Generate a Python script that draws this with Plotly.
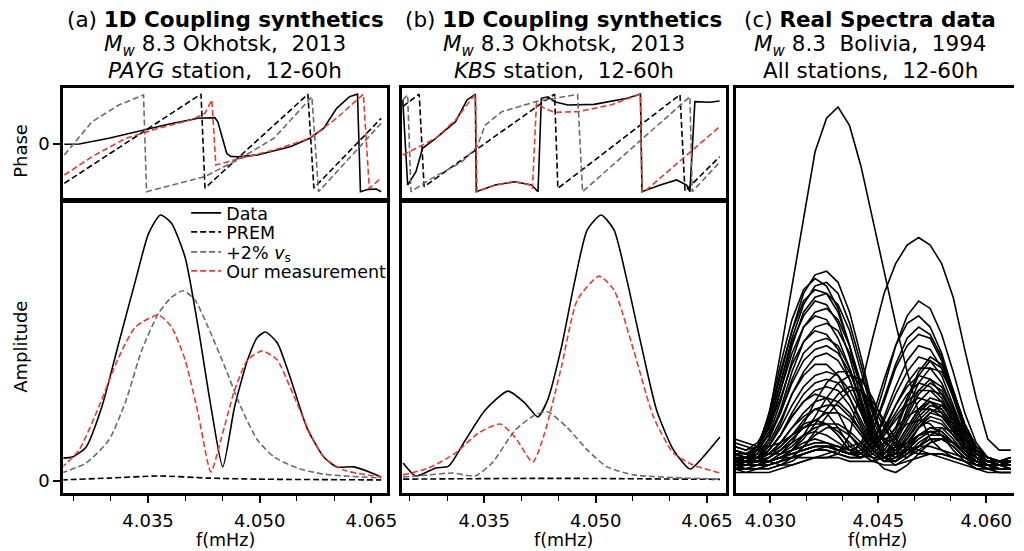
import plotly.graph_objects as go

# ---------------- Panel (a): PAYG station ----------------
# Phase (radians)
a_ph_data_f = [4.02376, 4.02575, 4.02975, 4.03374, 4.03773, 4.04172, 4.04398, 4.04438, 4.04504,
               4.04558, 4.04611, 4.04704, 4.04970, 4.05409, 4.05675, 4.05861, 4.06034, 4.06207,
               4.06314, 4.06354, 4.06460, 4.06566, 4.06633]
a_ph_data_v = [-0.02, 0.00, 0.36, 0.82, 1.24, 1.62, 1.66, 1.40, 0.20, -0.60, -0.78, -0.80, -0.69,
               -0.17, 0.36, 0.99, 2.24, 2.97, 3.14, -3.00, -2.85, -2.83, -3.00]
a_ph_prem_f = [4.02376, 4.04212, 4.04265, 4.05648, 4.05728, 4.06633]
a_ph_prem_v = [-2.47, 3.14, -2.77, 3.13, -2.77, 1.62]
a_ph_vs_f = [4.02376, 4.02748, 4.03108, 4.03440, 4.03480, 4.04261, 4.04704, 4.05192, 4.05702,
             4.05791, 4.06633]
a_ph_vs_v = [-0.69, 1.40, 2.45, 3.08, -3.00, -2.05, -1.00, 0.36, 2.97, -3.00, 1.30]
a_ph_meas_f = [4.02376, 4.02748, 4.03201, 4.03640, 4.04079, 4.04265, 4.04358, 4.04411, 4.04744,
               4.05196, 4.05675, 4.06034, 4.06393, 4.06473, 4.06633]
a_ph_meas_v = [-1.95, -0.80, 0.36, 0.99, 1.51, 1.93, 2.77, -1.32, -0.90, -0.38, 0.36, 1.62, 3.13,
               -2.79, -2.12]

# Amplitude (normalised)
a_amp_data_f = [4.02336, 4.02482, 4.02669, 4.02881, 4.03108, 4.03334, 4.03507, 4.03666, 4.03813,
                4.03999, 4.04172, 4.04345, 4.04504, 4.04664, 4.04837, 4.04970, 4.05076, 4.05236,
                4.05409, 4.05635, 4.05861, 4.06034, 4.06260, 4.06473, 4.06633]
a_amp_data_v = [0.086, 0.090, 0.128, 0.280, 0.520, 0.756, 0.930, 1.000, 0.970, 0.840, 0.580, 0.280,
                0.053, 0.280, 0.455, 0.540, 0.560, 0.520, 0.390, 0.200, 0.090, 0.053, 0.053, 0.034,
                0.015]
a_amp_prem_f = [4.02336, 4.02975, 4.03640, 4.04305, 4.04970, 4.06633]
a_amp_prem_v = [0.004, 0.011, 0.019, 0.011, 0.007, 0.004]
a_amp_vs_f = [4.02336, 4.02669, 4.02975, 4.03201, 4.03414, 4.03640, 4.03813, 4.03972, 4.04132,
              4.04305, 4.04531, 4.04744, 4.04970, 4.05196, 4.05502, 4.05861, 4.06633]
a_amp_vs_v = [0.030, 0.068, 0.154, 0.300, 0.490, 0.630, 0.690, 0.715, 0.680, 0.580, 0.430, 0.280,
              0.154, 0.090, 0.049, 0.026, 0.011]
a_amp_meas_f = [4.02336, 4.02575, 4.02841, 4.03108, 4.03334, 4.03640, 4.03813, 4.03999, 4.04172,
                4.04345, 4.04478, 4.04664, 4.04837, 4.05036, 4.05236, 4.05409, 4.05675, 4.05861,
                4.06127, 4.06633]
a_amp_meas_v = [0.049, 0.117, 0.280, 0.466, 0.580, 0.624, 0.580, 0.455, 0.255, 0.034, 0.154, 0.342,
                0.455, 0.489, 0.455, 0.353, 0.180, 0.090, 0.041, 0.015]

# ---------------- Panel (b): KBS station ----------------
b_ph_data_f = [4.02403, 4.02469, 4.02580, 4.02669, 4.02847, 4.03113, 4.03269, 4.03380, 4.03393,
               4.03647, 4.03913, 4.04136, 4.04224, 4.04269, 4.04357, 4.04447, 4.04624, 4.04980,
               4.05424, 4.05603, 4.05624, 4.05869, 4.06091, 4.06224, 4.06269, 4.06336, 4.06536,
               4.06669]
b_ph_data_v = [2.77, -2.58, -1.74, -0.27, 0.36, 1.40, 2.77, 3.14, -3.00, -2.58, -2.37, -2.58, -3.00,
               2.87, 2.97, 2.66, 2.45, 2.49, 2.87, 3.14, -3.00, -2.58, -2.26, -2.58, -3.00, 2.66,
               2.62, 2.70]
b_ph_prem_f = [4.02403, 4.02624, 4.02690, 4.04447, 4.04491, 4.06136, 4.06203, 4.06669]
b_ph_prem_v = [2.35, 3.14, -2.68, 3.14, -2.79, 3.10, -2.96, -0.80]
b_ph_vs_f = [4.02403, 4.02469, 4.02513, 4.02757, 4.03203, 4.03403, 4.03513, 4.03736, 4.04224,
             4.04757, 4.04824, 4.06269, 4.06300, 4.06669]
b_ph_vs_v = [2.77, 3.08, -3.00, -2.26, -1.11, -0.17, 1.19, 2.03, 2.70, 3.12, -3.00, 2.97, -3.00, -1.15]
b_ph_meas_f = [4.02403, 4.02847, 4.03113, 4.03380, 4.03403, 4.03647, 4.03913, 4.04113, 4.04149,
               4.04203, 4.04313, 4.04447, 4.04757, 4.05203, 4.05603, 4.05624, 4.05669, 4.06669]
b_ph_meas_v = [-0.69, 0.36, 1.51, 3.14, -3.00, -2.58, -2.37, -2.58, -2.79, 2.56, 2.24, 1.99, 2.03,
               2.45, 3.14, -3.00, -2.95, 1.09]

b_amp_data_f = [4.02407, 4.02580, 4.02847, 4.03020, 4.03247, 4.03513, 4.03820, 4.04047, 4.04220,
                4.04353, 4.04540, 4.04713, 4.04887, 4.05073, 4.05247, 4.05420, 4.05607, 4.05820,
                4.06047, 4.06273, 4.06447, 4.06673]
b_amp_data_v = [0.068, 0.019, 0.049, 0.056, 0.154, 0.267, 0.338, 0.293, 0.241, 0.304, 0.504, 0.744,
                0.944, 1.000, 0.944, 0.756, 0.520, 0.267, 0.117, 0.045, 0.090, 0.165]
b_amp_prem_f = [4.02407, 4.04500, 4.06673]
b_amp_prem_v = [0.007, 0.010, 0.006]
b_amp_vs_f = [4.02407, 4.02753, 4.03073, 4.03380, 4.03607, 4.03913, 4.04180, 4.04353, 4.04620,
              4.04887, 4.05153, 4.05513, 4.06673]
b_amp_vs_v = [0.015, 0.023, 0.030, 0.019, 0.068, 0.190, 0.248, 0.260, 0.200, 0.117, 0.053, 0.023,
              0.007]
b_amp_meas_f = [4.02407, 4.02753, 4.03113, 4.03420, 4.03713, 4.03913, 4.04153, 4.04313, 4.04540,
                4.04753, 4.05047, 4.05247, 4.05513, 4.05780, 4.06047, 4.06313, 4.06673]
b_amp_meas_v = [0.023, 0.049, 0.105, 0.180, 0.214, 0.165, 0.071, 0.180, 0.430, 0.680, 0.770, 0.718,
                0.490, 0.240, 0.105, 0.060, 0.030]

# ---------------- Panel (c): real spectra, all stations (amplitude, %) ----------------
c_freq = [4.0250, 4.0266, 4.0282, 4.0298, 4.0314, 4.0330, 4.0346, 4.0362, 4.0378, 4.0394, 4.0410,
          4.0426, 4.0442, 4.0458, 4.0474, 4.0490, 4.0506, 4.0522, 4.0538, 4.0554, 4.0570, 4.0586,
          4.0602, 4.0618, 4.0634]
c_spectra = [
    [5, 6, 9, 17, 34, 52, 71, 88, 97, 100, 95, 84, 70, 56, 42, 29, 18, 11, 8, 6, 5, 4, 4, 3, 3],
    [4, 4, 5, 5, 6, 6, 6, 6, 6, 7, 12, 25, 38, 50, 58, 63, 65, 63, 58, 49, 35, 22, 11, 8, 8],
    [8, 7, 9, 16, 28, 40, 50, 55, 56, 53, 45, 33, 20, 10, 8, 11, 16, 19, 18, 14, 9, 6, 5, 5, 4],
    [6, 5, 8, 18, 31, 43, 51, 54, 52, 46, 36, 24, 13, 7, 9, 14, 19, 21, 19, 14, 9, 6, 5, 4, 4],
    [9, 8, 10, 15, 26, 38, 47, 52, 53, 50, 42, 31, 19, 11, 12, 18, 24, 27, 25, 19, 12, 7, 5, 4, 3],
    [5, 6, 9, 17, 29, 40, 48, 51, 50, 45, 36, 25, 14, 8, 6, 8, 11, 13, 12, 10, 7, 5, 4, 4, 5],
    [7, 6, 7, 13, 24, 36, 45, 49, 50, 47, 40, 29, 18, 10, 11, 17, 23, 26, 24, 18, 11, 7, 5, 4, 4],
    [4, 5, 8, 15, 26, 37, 44, 48, 47, 42, 33, 22, 12, 6, 5, 9, 14, 17, 16, 12, 8, 5, 4, 3, 3],
    [8, 7, 8, 12, 21, 32, 41, 45, 46, 43, 36, 26, 16, 10, 14, 22, 29, 33, 31, 24, 15, 9, 6, 5, 5],
    [6, 6, 8, 14, 24, 34, 41, 44, 43, 38, 30, 20, 11, 6, 7, 12, 17, 20, 19, 15, 9, 6, 4, 4, 4],
    [5, 4, 6, 11, 19, 29, 37, 41, 42, 40, 34, 25, 15, 8, 7, 10, 14, 16, 15, 12, 8, 5, 4, 3, 3],
    [7, 7, 9, 14, 22, 31, 37, 40, 39, 35, 27, 18, 10, 7, 11, 19, 26, 30, 29, 23, 14, 8, 6, 5, 5],
    [4, 5, 7, 11, 18, 27, 34, 37, 38, 36, 30, 21, 12, 6, 4, 6, 9, 11, 11, 9, 6, 4, 3, 3, 3],
    [9, 8, 9, 12, 18, 26, 32, 35, 36, 34, 29, 21, 13, 9, 13, 21, 28, 32, 30, 23, 14, 8, 6, 5, 6],
    [5, 5, 6, 9, 15, 23, 29, 33, 34, 32, 27, 19, 11, 6, 5, 7, 10, 12, 12, 10, 7, 5, 4, 4, 4],
    [6, 5, 6, 10, 16, 23, 28, 31, 31, 28, 22, 15, 9, 6, 8, 13, 18, 21, 20, 16, 10, 6, 4, 4, 3],
    [3, 4, 6, 9, 14, 20, 25, 28, 29, 28, 24, 18, 11, 6, 5, 8, 12, 14, 14, 11, 7, 4, 3, 3, 3],
    [7, 6, 6, 8, 12, 18, 23, 26, 27, 26, 22, 16, 10, 7, 10, 16, 21, 24, 23, 18, 11, 7, 5, 4, 4],
    [4, 4, 5, 8, 12, 17, 21, 24, 25, 24, 20, 14, 8, 5, 6, 9, 12, 14, 13, 10, 7, 5, 4, 3, 3],
    [5, 5, 5, 7, 10, 14, 18, 21, 22, 21, 18, 13, 8, 6, 9, 14, 19, 22, 21, 17, 11, 7, 5, 4, 4],
    [6, 5, 5, 6, 9, 12, 16, 19, 20, 20, 17, 13, 8, 5, 5, 7, 9, 11, 11, 9, 6, 4, 4, 3, 3],
    [3, 3, 4, 6, 8, 11, 14, 16, 18, 18, 16, 12, 8, 5, 7, 11, 15, 18, 17, 14, 9, 6, 4, 4, 4],
    [5, 4, 4, 5, 7, 9, 12, 14, 15, 15, 13, 10, 7, 5, 6, 9, 12, 13, 13, 10, 7, 5, 4, 3, 3],
    [4, 4, 4, 5, 7, 10, 15, 21, 26, 29, 29, 25, 18, 11, 7, 6, 8, 10, 11, 10, 8, 6, 5, 4, 4],
    [3, 3, 3, 4, 5, 8, 12, 17, 22, 26, 28, 27, 22, 15, 9, 7, 9, 12, 14, 13, 10, 7, 5, 4, 4],
    [5, 5, 5, 5, 6, 8, 11, 15, 19, 23, 25, 24, 20, 14, 9, 10, 14, 18, 20, 18, 13, 8, 6, 5, 5],
    [4, 4, 4, 4, 5, 6, 9, 13, 17, 21, 24, 24, 21, 16, 11, 8, 7, 7, 7, 6, 5, 4, 4, 4, 3],
    [6, 5, 5, 6, 8, 10, 12, 13, 12, 10, 8, 9, 15, 25, 36, 44, 48, 46, 39, 29, 18, 10, 6, 5, 5],
    [4, 4, 4, 5, 6, 8, 10, 11, 10, 8, 7, 10, 17, 27, 36, 42, 44, 41, 34, 24, 14, 8, 5, 4, 5],
    [7, 6, 6, 7, 10, 14, 17, 19, 18, 14, 9, 7, 13, 22, 31, 38, 41, 39, 33, 24, 15, 9, 6, 5, 6],
    [5, 5, 5, 5, 6, 7, 8, 9, 9, 8, 7, 8, 13, 21, 30, 36, 39, 38, 32, 23, 14, 8, 5, 4, 4],
    [6, 5, 6, 8, 12, 17, 21, 23, 22, 18, 12, 8, 10, 17, 25, 32, 36, 35, 30, 22, 13, 8, 6, 5, 5],
    [4, 4, 4, 5, 6, 7, 8, 9, 9, 8, 7, 7, 10, 16, 23, 29, 33, 32, 28, 20, 12, 7, 5, 4, 4],
    [5, 5, 5, 6, 8, 11, 14, 16, 15, 12, 8, 6, 8, 13, 20, 26, 30, 30, 26, 19, 12, 7, 5, 5, 5],
    [3, 3, 4, 5, 6, 8, 9, 10, 10, 9, 7, 6, 9, 14, 20, 25, 28, 27, 23, 17, 10, 6, 4, 4, 4],
    [6, 6, 6, 7, 9, 12, 15, 16, 15, 12, 8, 7, 9, 13, 18, 23, 26, 25, 22, 16, 10, 6, 5, 5, 5],
    [4, 4, 4, 4, 5, 6, 7, 8, 8, 7, 6, 6, 8, 12, 17, 21, 24, 24, 21, 15, 9, 6, 4, 4, 4],
    [5, 5, 5, 5, 6, 7, 8, 9, 9, 8, 7, 7, 9, 12, 16, 20, 22, 21, 18, 13, 8, 5, 4, 4, 5],
    [3, 3, 3, 4, 5, 6, 7, 8, 8, 7, 6, 6, 7, 10, 14, 17, 19, 19, 17, 13, 8, 5, 4, 3, 3],
    [10, 9, 8, 7, 7, 8, 9, 10, 10, 9, 8, 7, 6, 6, 7, 8, 9, 9, 8, 7, 6, 5, 5, 5, 6],
    [2, 2, 3, 3, 4, 5, 7, 8, 9, 9, 8, 7, 5, 4, 4, 5, 6, 7, 7, 6, 5, 3, 2, 2, 2],
    [8, 7, 6, 5, 4, 4, 5, 6, 7, 8, 9, 10, 11, 11, 10, 9, 8, 7, 6, 5, 4, 3, 3, 3, 3],
    [4, 3, 3, 3, 4, 6, 9, 12, 14, 14, 12, 9, 6, 3, 2, 4, 7, 10, 11, 10, 7, 4, 3, 2, 2],
    [11, 10, 9, 9, 10, 12, 14, 15, 15, 13, 10, 7, 5, 8, 12, 15, 16, 15, 12, 8, 5, 3, 3, 4, 5],
    [3, 2, 2, 2, 3, 4, 5, 6, 6, 6, 5, 5, 5, 6, 8, 10, 12, 13, 12, 10, 7, 5, 3, 2, 2],
]

# ---------------- Axis ticks / labels ----------------
ab_major_ticks = [4.035, 4.050, 4.065]
ab_major_labels = ["4.035", "4.050", "4.065"]
ab_minor_ticks = [4.025, 4.030, 4.040, 4.045, 4.055, 4.060]
c_major_ticks = [4.030, 4.045, 4.060]
c_major_labels = ["4.030", "4.045", "4.060"]
c_minor_ticks = [4.035, 4.040, 4.050, 4.055]
a_xrange = [4.02363, 4.06713]
b_xrange = [4.02393, 4.06753]
c_xrange = [4.02518, 4.06385]
phase_range = [-3.52, 3.52]
amp_range = [-0.0451, 1.0526]
c_amp_range = [-3.49, 105.1]

legend_names = ["Data", "PREM", "+2% <i>v</i><sub>s</sub>", "Our measurement"]
titles = {
    "a": ["(a) <b>1D Coupling synthetics</b>",
          "<i>M<sub>w</sub></i> 8.3 Okhotsk,\u00a0 2013",
          "<i>PAYG</i> station,\u00a0 12-60h"],
    "b": ["(b) <b>1D Coupling synthetics</b>",
          "<i>M<sub>w</sub></i> 8.3 Okhotsk,\u00a0 2013",
          "<i>KBS</i> station,\u00a0 12-60h"],
    "c": ["(c) <b>Real Spectra data</b>",
          "<i>M<sub>w</sub></i> 8.3\u00a0 Bolivia,\u00a0 1994",
          "All stations,\u00a0 12-60h"],
}

# ---------------- Figure ----------------
W, H = 1024, 551
FONT = "DejaVu Sans"
BLACK, GREY, RED = "#000000", "#6b6b6b", "#ea3a2c"
DASH = "6px,3px"
SMALL = 18


def fx(p):
    return p / W


def fy(p):
    return 1 - p / H


fig = go.Figure()


def add(xa, ya, f, v, color, dash, name=None, legend=None, width=1.6, shape="linear"):
    kw = dict(showlegend=False)
    if legend is not None:
        kw = dict(showlegend=True, legend=legend)
    fig.add_trace(go.Scatter(
        x=f, y=v, mode="lines", xaxis=xa, yaxis=ya, name=name,
        line=dict(color=color, dash=dash, width=width, shape=shape, smoothing=0.6),
        hoverinfo="skip", **kw))


# Panel a amplitude (legend entries)
add("x2", "y2", a_amp_data_f, a_amp_data_v, BLACK, "solid", legend_names[0], "legend", shape="spline")
add("x2", "y2", a_amp_prem_f, a_amp_prem_v, BLACK, DASH, legend_names[1], "legend2", shape="spline")
add("x2", "y2", a_amp_vs_f, a_amp_vs_v, GREY, DASH, legend_names[2], "legend3", shape="spline")
add("x2", "y2", a_amp_meas_f, a_amp_meas_v, RED, DASH, legend_names[3], "legend4", shape="spline")
# Panel a phase
add("x", "y", a_ph_data_f, a_ph_data_v, BLACK, "solid")
add("x", "y", a_ph_prem_f, a_ph_prem_v, BLACK, DASH)
add("x", "y", a_ph_vs_f, a_ph_vs_v, GREY, DASH)
add("x", "y", a_ph_meas_f, a_ph_meas_v, RED, DASH)
# Panel b phase
add("x3", "y3", b_ph_data_f, b_ph_data_v, BLACK, "solid")
add("x3", "y3", b_ph_prem_f, b_ph_prem_v, BLACK, DASH)
add("x3", "y3", b_ph_vs_f, b_ph_vs_v, GREY, DASH)
add("x3", "y3", b_ph_meas_f, b_ph_meas_v, RED, DASH)
# Panel b amplitude
add("x4", "y4", b_amp_data_f, b_amp_data_v, BLACK, "solid", shape="spline")
add("x4", "y4", b_amp_prem_f, b_amp_prem_v, BLACK, DASH, shape="spline")
add("x4", "y4", b_amp_vs_f, b_amp_vs_v, GREY, DASH, shape="spline")
add("x4", "y4", b_amp_meas_f, b_amp_meas_v, RED, DASH, shape="spline")
# Panel c
for row in c_spectra:
    add("x5", "y5", c_freq, row, BLACK, "solid", width=1.6)

frame = dict(showline=True, linewidth=3, linecolor="black", showgrid=False, zeroline=False)
tickfont = dict(family=FONT, size=SMALL, color="black")

xa = fx(64), fx(391)
xb = fx(406), fx(733)
xc = fx(743), 1.0
y_ph = fy(200), fy(88)
y_amp = fy(493), fy(201)
y_c = fy(493), fy(88)


def xticks(major, labels, minor):
    return dict(ticks="outside", ticklen=7, tickwidth=1.5, tickcolor="black", tickfont=tickfont,
                tickvals=major, ticktext=labels, ticklabelstandoff=2,
                minor=dict(tickvals=minor, ticks="outside", ticklen=5, tickwidth=1.3,
                           tickcolor="black", showgrid=False))


yticks0 = dict(ticks="outside", ticklen=7, tickwidth=1.5, tickcolor="black", tickfont=tickfont,
               tickvals=[0], ticktext=["0"])
noticks = dict(ticks="", showticklabels=False)

legend_rows = [213, 232, 252, 271]
legend_common = dict(x=fx(188), xanchor="left", yanchor="middle",
                     bgcolor="rgba(255,255,255,0)", borderwidth=0,
                     font=dict(family=FONT, size=17.5, color="black"), itemwidth=30)

fig.update_layout(
    width=W, height=H, margin=dict(l=0, r=0, t=0, b=0),
    paper_bgcolor="white", plot_bgcolor="white",
    font=dict(family=FONT, color="black"),
    xaxis=dict(domain=xa, anchor="y", range=a_xrange, mirror=True, **frame, **noticks),
    yaxis=dict(domain=y_ph, anchor="x", range=phase_range, mirror=True, **frame, **yticks0),
    xaxis2=dict(domain=xa, anchor="y2", range=a_xrange, mirror=True, **frame,
                **xticks(ab_major_ticks, ab_major_labels, ab_minor_ticks)),
    yaxis2=dict(domain=y_amp, anchor="x2", range=amp_range, mirror=True, **frame, **yticks0),
    xaxis3=dict(domain=xb, anchor="y3", range=b_xrange, mirror=True, **frame, **noticks),
    yaxis3=dict(domain=y_ph, anchor="x3", range=phase_range, mirror=True, **frame, **noticks),
    xaxis4=dict(domain=xb, anchor="y4", range=b_xrange, mirror=True, **frame,
                **xticks(ab_major_ticks, ab_major_labels, ab_minor_ticks)),
    yaxis4=dict(domain=y_amp, anchor="x4", range=amp_range, mirror=True, **frame, **noticks),
    xaxis5=dict(domain=xc, anchor="y5", range=c_xrange, mirror=True, **frame,
                **xticks(c_major_ticks, c_major_labels, c_minor_ticks)),
    yaxis5=dict(domain=y_c, anchor="x5", range=c_amp_range, mirror=False, **frame, **noticks),
    legend=dict(y=fy(legend_rows[0]), **legend_common),
    legend2=dict(y=fy(legend_rows[1]), **legend_common),
    legend3=dict(y=fy(legend_rows[2]), **legend_common),
    legend4=dict(y=fy(legend_rows[3]), **legend_common),
)

ann = []
title_cx = {"a": 227.5, "b": 569.5, "c": 879}
title_y = [20, 46, 70]
for key, lines in titles.items():
    for k, txt in enumerate(lines):
        ann.append(dict(x=fx(title_cx[key]), y=fy(title_y[k]), xref="paper", yref="paper",
                        text=txt, showarrow=False, xanchor="center", yanchor="middle",
                        font=dict(family=FONT, size=21.5, color="black")))
for cx in (227.5, 569.5, 886):
    ann.append(dict(x=fx(cx), y=fy(540), xref="paper", yref="paper", text="f(mHz)",
                    showarrow=False, xanchor="center", yanchor="middle",
                    font=dict(family=FONT, size=17.5, color="black")))
ann.append(dict(x=fx(20), y=fy(151), xref="paper", yref="paper", text="Phase", textangle=-90,
                showarrow=False, xanchor="center", yanchor="middle",
                font=dict(family=FONT, size=SMALL, color="black")))
ann.append(dict(x=fx(20), y=fy(347), xref="paper", yref="paper", text="Amplitude", textangle=-90,
                showarrow=False, xanchor="center", yanchor="middle",
                font=dict(family=FONT, size=SMALL, color="black")))
fig.update_layout(annotations=ann)

fig.write_html("out.html", config={"displayModeBar": False},
               post_script="document.body.style.margin='0px';document.body.style.overflow='hidden';")
